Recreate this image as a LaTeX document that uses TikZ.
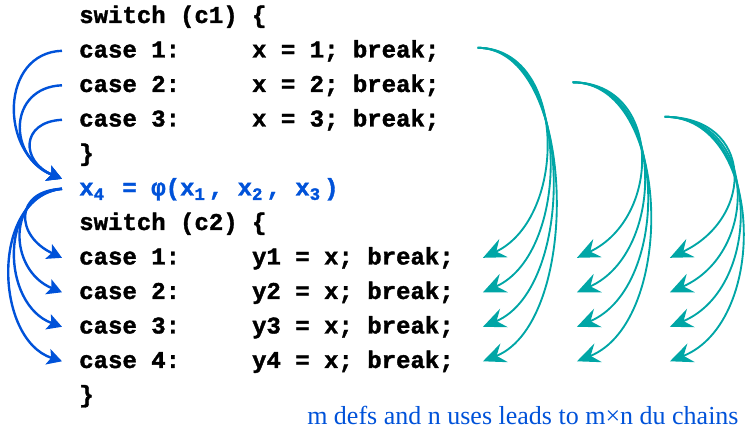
\documentclass[tikz,border=0pt]{standalone}
\usepackage{fontspec}
\setmainfont{Liberation Serif}
\setmonofont{Liberation Mono}[BoldFeatures={FakeBold=1.5}]
\usetikzlibrary{arrows.meta,calc}
\definecolor{defblue}{RGB}{0,82,217}
\definecolor{useteal}{RGB}{0,166,166}
\newcommand\subx[1]{\makebox[0.6em][l]{\raisebox{-0.35ex}{\fontsize{13}{13}\selectfont #1}}}

\begin{document}
\begin{tikzpicture}[x=0.75pt,y=-0.75pt,
    code/.style={anchor=west,inner xsep=12.75pt,inner ysep=0pt,text height=10pt,text depth=0pt,
      font=\fontsize{18}{18}\selectfont\ttfamily\bfseries},
    defarrow/.style={defblue,line width=1.8pt,-{Stealth[length=11pt,width=12pt,inset=2.5pt]}},
    usearrow/.style={useteal,line width=1.4pt,-{Stealth[length=17pt,width=15pt,inset=6pt]}}]
    \useasboundingbox (0,0) rectangle (754,434);
    %% first switch: the defs
    \node[code] (sw1) at (62,16.3) {switch (c1) \{};
    \node[code] (a1) at (62,50.8) {case 1:\hspace*{3em}x = 1; break;};
    \node[code] (a2) at (62,85.3) {case 2:\hspace*{3em}x = 2; break;};
    \node[code] (a3) at (62,119.8) {case 3:\hspace*{3em}x = 3; break;};
    \node[code] (cb1) at (62,154.3) {\}};
    % phi
    \node[code,text=defblue] (phi) at (62,188.8)
      {x\subx{4} = φ(x\subx{1}, x\subx{2}, x\subx{3})};
    %% second switch: the uses
    \node[code] (sw2) at (62,223.3) {switch (c2) \{};
    \node[code] (b1) at (62,257.8) {case 1:\hspace*{3em}y1 = x; break;};
    \node[code] (b2) at (62,292.3) {case 2:\hspace*{3em}y2 = x; break;};
    \node[code] (b3) at (62,326.8) {case 3:\hspace*{3em}y3 = x; break;};
    \node[code] (b4) at (62,361.3) {case 4:\hspace*{3em}y4 = x; break;};
    \node[code] (cb2) at (62,395.8) {\}};
    \node[anchor=base west,inner sep=0pt,text=defblue,font=\fontsize{19.5}{20}\selectfont]
      (note) at (307,425) {m defs and n uses leads to m×n du chains};

    % defs into the phi
    \coordinate (phiin) at ($(phi.west)+(0,-10)$);
    \foreach \i/\ca/\cb/\cc in {1/-62/-63/-26,2/-54/-55/-22,3/-42/-41/-17}
      \draw[defarrow] (a\i.west) .. controls +(\ca,2) and +(\cb,\cc) .. (phiin);
    % phi out to the uses
    \foreach \k in {1,...,4}
      \draw[defarrow] (phi.west) .. controls +({-40-8*\k},{2*\k}) and +({-40-7*\k},-22) .. (b\k.west);

    % m x n du chains
    \foreach \g/\dx/\ux in {1/21/12,2/116/106,3/208/199} {
      \coordinate (d\g) at ($(a\g.east)+(\dx,-3)$);
      \foreach \k in {1,...,4} {
        \coordinate (u\g\k) at ($(b\k.east)+(\ux,0)$);
        \draw[usearrow] (d\g) .. controls +({87+3*\k},0) and +({80+5*\k},-40) .. (u\g\k);
      }
    }
\end{tikzpicture}
\end{document}
